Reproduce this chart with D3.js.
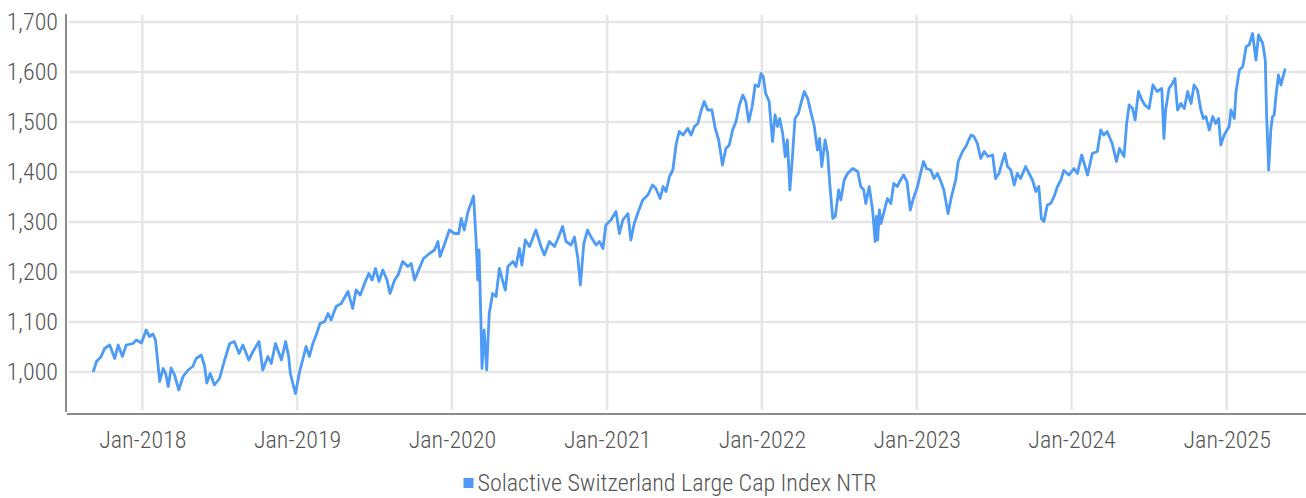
<!DOCTYPE html>
<html lang="en">
<head>
<meta charset="utf-8">
<title>Solactive Switzerland Large Cap Index NTR</title>
<style>
  body { margin: 0; background: #fff; }
  svg { display: block; background: #fff; }
  text { font-family: "Roboto Condensed", "Liberation Sans Narrow", "DejaVu Sans Condensed", Roboto, sans-serif; font-weight: 300; fill: #555; }
  .grid line { stroke: #e6e6e6; stroke-width: 2.5; }
  .axis path { stroke: #8a8a8a; stroke-width: 2; }
  .index-line { fill: none; stroke: #4d9bf5; stroke-width: 2.8; stroke-linejoin: round; }
</style>
</head>
<body>
<div id="chart"></div>
<script src="https://cdn.jsdelivr.net/npm/d3@7"></script>
<script>
// index level
var dates = [
  "2017-09-07","2017-09-15","2017-09-26","2017-10-04","2017-10-16","2017-10-28","2017-11-05","2017-11-15","2017-11-24","2017-12-10","2017-12-18","2017-12-30",
  "2018-01-10","2018-01-18","2018-01-26","2018-02-01","2018-02-11","2018-02-19","2018-02-25","2018-03-03","2018-03-10","2018-03-18","2018-03-28",
  "2018-04-07","2018-04-19","2018-04-30","2018-05-08","2018-05-20","2018-05-28","2018-06-02","2018-06-10","2018-06-20","2018-07-02","2018-07-14",
  "2018-07-26","2018-08-06","2018-08-17","2018-08-26","2018-09-09","2018-09-19","2018-10-03","2018-10-12","2018-10-24","2018-11-01","2018-11-11",
  "2018-11-25","2018-12-05","2018-12-12","2018-12-16","2018-12-28",
  "2019-01-07","2019-01-15","2019-01-22","2019-01-30","2019-02-07","2019-02-15","2019-02-24","2019-03-07","2019-03-15","2019-03-22","2019-04-03",
  "2019-04-15","2019-05-01","2019-05-12","2019-05-20","2019-05-30","2019-06-09","2019-06-19","2019-06-27","2019-07-05","2019-07-13","2019-07-22",
  "2019-08-01","2019-08-08","2019-08-19","2019-08-27","2019-09-07","2019-09-19","2019-09-27","2019-10-05","2019-10-16","2019-10-26","2019-11-09",
  "2019-11-21","2019-11-29","2019-12-04","2019-12-14","2019-12-26",
  "2020-01-07","2020-01-17","2020-01-23","2020-01-30","2020-02-08","2020-02-15","2020-02-21","2020-02-27","2020-03-02","2020-03-05","2020-03-09",
  "2020-03-12","2020-03-17","2020-03-23","2020-03-29","2020-04-06","2020-04-14","2020-04-22","2020-04-30","2020-05-06","2020-05-12","2020-05-24",
  "2020-05-31","2020-06-08","2020-06-14","2020-06-22","2020-07-02","2020-07-17","2020-07-29","2020-08-06","2020-08-18","2020-08-30","2020-09-07",
  "2020-09-18","2020-09-26","2020-10-08","2020-10-16","2020-10-24","2020-10-30","2020-11-07","2020-11-16","2020-11-24","2020-12-06","2020-12-14",
  "2020-12-22","2020-12-29",
  "2021-01-10","2021-01-22","2021-01-30","2021-02-07","2021-02-19","2021-02-26","2021-03-06","2021-03-14","2021-03-26","2021-04-07","2021-04-18",
  "2021-04-26","2021-05-06","2021-05-13","2021-05-20","2021-05-28","2021-06-05","2021-06-13","2021-06-20","2021-06-29","2021-07-10","2021-07-18",
  "2021-07-26","2021-08-03","2021-08-11","2021-08-18","2021-08-26","2021-09-05","2021-09-13","2021-09-21","2021-09-30","2021-10-08","2021-10-16",
  "2021-10-24","2021-11-01","2021-11-09","2021-11-17","2021-11-24","2021-12-01","2021-12-09","2021-12-16","2021-12-24","2021-12-30",
  "2022-01-04","2022-01-10","2022-01-18","2022-01-26","2022-02-01","2022-02-07","2022-02-12","2022-02-19","2022-02-25","2022-03-02","2022-03-08",
  "2022-03-14","2022-03-20","2022-03-28","2022-04-03","2022-04-11","2022-04-19","2022-04-26","2022-05-04","2022-05-12","2022-05-17","2022-05-22",
  "2022-05-30","2022-06-05","2022-06-10","2022-06-17","2022-06-23","2022-07-01","2022-07-06","2022-07-14","2022-07-22","2022-08-03","2022-08-15",
  "2022-08-22","2022-08-29","2022-09-03","2022-09-11","2022-09-19","2022-09-25","2022-09-28","2022-10-01","2022-10-05","2022-10-09","2022-10-24",
  "2022-11-01","2022-11-08","2022-11-16","2022-11-24","2022-12-01","2022-12-09","2022-12-17","2022-12-23",
  "2023-01-03","2023-01-10","2023-01-17","2023-01-24","2023-02-03","2023-02-11","2023-02-19","2023-02-27","2023-03-06","2023-03-16","2023-03-24",
  "2023-04-03","2023-04-09","2023-04-19","2023-04-27","2023-05-09","2023-05-16","2023-05-24","2023-06-01","2023-06-09","2023-06-18","2023-06-29",
  "2023-07-06","2023-07-14","2023-07-22","2023-07-28","2023-08-03","2023-08-11","2023-08-19","2023-08-26","2023-09-03","2023-09-15","2023-09-23",
  "2023-10-01","2023-10-09","2023-10-16","2023-10-22","2023-10-28","2023-11-05","2023-11-13","2023-11-21","2023-11-29","2023-12-07","2023-12-14",
  "2023-12-26",
  "2024-01-07","2024-01-15","2024-01-25","2024-01-31","2024-02-08","2024-02-19","2024-03-02","2024-03-10","2024-03-17","2024-03-25","2024-04-06",
  "2024-04-16","2024-04-23","2024-05-04","2024-05-10","2024-05-16","2024-05-24","2024-05-30","2024-06-07","2024-06-15","2024-06-22","2024-07-02",
  "2024-07-11","2024-07-21","2024-08-01","2024-08-06","2024-08-10","2024-08-18","2024-08-26","2024-09-01","2024-09-07","2024-09-15","2024-09-23",
  "2024-10-01","2024-10-09","2024-10-16","2024-10-24","2024-11-01","2024-11-07","2024-11-13","2024-11-21","2024-11-29","2024-12-06","2024-12-13",
  "2024-12-18","2024-12-26",
  "2025-01-07","2025-01-11","2025-01-19","2025-01-23","2025-01-31","2025-02-08","2025-02-16","2025-02-23","2025-03-03","2025-03-11","2025-03-17",
  "2025-03-27","2025-04-02","2025-04-05","2025-04-10","2025-04-15","2025-04-19","2025-04-23","2025-04-27","2025-05-03","2025-05-09","2025-05-14",
  "2025-05-19"
];
var values = [
  1000,1021,1031,1047,1054,1027,1054,1031,1054,1057,1064,1058,
  1084,1071,1076,1064,981,1007,997,971,1008,994,964,
  991,1004,1011,1027,1034,1011,978,997,974,987,1024,
  1057,1061,1037,1054,1024,1041,1061,1004,1031,1017,1057,
  1024,1061,1031,997,957,
  1001,1027,1051,1031,1057,1074,1097,1101,1117,1104,1131,
  1137,1161,1127,1164,1154,1177,1197,1184,1207,1181,1204,
  1184,1157,1184,1194,1221,1211,1217,1184,1207,1227,1237,
  1244,1261,1231,1254,1284,
  1277,1277,1307,1284,1321,1337,1352,1264,1184,1244,1117,
  1007,1084,1004,1117,1157,1151,1207,1181,1164,1211,1221,
  1211,1247,1214,1264,1251,1284,1251,1234,1261,1251,1267,
  1291,1261,1254,1270,1227,1174,1257,1284,1270,1254,1261,
  1247,1294,
  1304,1321,1277,1304,1317,1264,1297,1317,1344,1354,1374,
  1367,1347,1371,1361,1391,1404,1457,1481,1474,1487,1474,
  1491,1497,1524,1541,1524,1524,1487,1464,1414,1447,1454,
  1484,1501,1534,1554,1541,1501,1531,1574,1571,1597,
  1591,1557,1541,1461,1514,1491,1507,1477,1431,1464,1364,
  1431,1507,1517,1537,1561,1547,1521,1494,1444,1467,1411,
  1464,1437,1377,1307,1311,1364,1344,1384,1397,1407,1401,
  1371,1364,1337,1371,1324,1261,1311,1264,1324,1297,1347,
  1337,1377,1371,1384,1394,1381,1324,1344,
  1371,1397,1421,1407,1404,1387,1397,1381,1364,1317,1351,
  1384,1421,1441,1451,1474,1471,1457,1427,1441,1431,1434,
  1387,1397,1421,1437,1411,1404,1374,1397,1387,1411,1397,
  1384,1361,1371,1307,1301,1334,1337,1351,1371,1384,1403,
  1394,
  1407,1397,1434,1417,1394,1437,1441,1484,1474,1481,1457,
  1421,1447,1431,1497,1534,1527,1504,1561,1544,1534,1527,
  1574,1561,1567,1467,1524,1567,1577,1587,1524,1537,1527,
  1561,1537,1574,1564,1524,1507,1511,1484,1511,1497,1507,
  1454,1474,
  1491,1524,1507,1561,1604,1611,1651,1654,1677,1624,1674,
  1657,1624,1517,1404,1484,1511,1514,1551,1594,1574,1591,
  1607
];
var yTicks = [1000, 1100, 1200, 1300, 1400, 1500, 1600, 1700];
var xTicks = ["2018-01-01", "2019-01-01", "2020-01-01", "2021-01-01", "2022-01-01", "2023-01-01", "2024-01-01", "2025-01-01"];
var seriesName = "Solactive Switzerland Large Cap Index NTR";

var width = 1306, height = 498;
var plotLeft = 66, plotRight = 1306, plotTop = 14, plotBottom = 414;

var parse = d3.timeParse("%Y-%m-%d");
var data = dates.map(function(d, i) { return {date: parse(d), value: values[i]}; });

var svg = d3.select("#chart").append("svg")
    .attr("width", width)
    .attr("height", height);

var x = d3.scaleTime()
    .domain([parse("2017-07-05"), parse("2025-07-07")])
    .range([plotLeft, plotRight]);

var y = d3.scaleLinear()
    .domain([916, 1716])
    .range([plotBottom, plotTop]);

// gridlines
var grid = svg.append("g").attr("class", "grid");
grid.selectAll(".h")
    .data(yTicks)
    .enter().append("line")
    .attr("x1", plotLeft + 3).attr("x2", plotRight)
    .attr("y1", function(d) { return y(d); })
    .attr("y2", function(d) { return y(d); });
grid.selectAll(".v")
    .data(xTicks)
    .enter().append("line")
    .attr("x1", function(d) { return x(parse(d)); })
    .attr("x2", function(d) { return x(parse(d)); })
    .attr("y1", plotTop + 1).attr("y2", plotBottom - 4);

// axes
var yAxis = svg.append("g")
    .attr("class", "axis")
    .attr("transform", "translate(" + plotLeft + ",0)")
    .call(d3.axisLeft(y).tickValues(yTicks).tickFormat(d3.format(",")).tickSize(0).tickSizeOuter(0).tickPadding(8));
yAxis.select(".domain").attr("d", "M0," + plotTop + "V" + (plotBottom - 2));
yAxis.selectAll("text").style("font-size", "24px").style("fill", "#555");

var xAxis = svg.append("g")
    .attr("class", "axis")
    .attr("transform", "translate(0," + plotBottom + ")")
    .call(d3.axisBottom(x).tickValues(xTicks.map(parse)).tickFormat(d3.timeFormat("%b-%Y")).tickSize(0).tickSizeOuter(0).tickPadding(17));
xAxis.select(".domain").attr("d", "M" + (plotLeft + 1) + ",0H" + plotRight);
xAxis.selectAll("text").style("font-size", "24px").style("fill", "#555");

// series
var line = d3.line()
    .x(function(d) { return x(d.date); })
    .y(function(d) { return y(d.value); });

svg.append("path")
    .datum(data)
    .attr("class", "index-line")
    .attr("d", line);

// legend
var legend = svg.append("g").attr("transform", "translate(" + (width / 2 + 24) + ",483)");
var legendText = legend.append("text")
    .attr("x", 0)
    .attr("dy", "0.35em")
    .attr("text-anchor", "middle")
    .style("font-size", "24px")
    .style("fill", "#555")
    .text(seriesName);
var bb = legendText.node().getBBox();
legend.append("rect")
    .attr("x", bb.x - 14)
    .attr("y", -5)
    .attr("width", 10)
    .attr("height", 10)
    .attr("fill", "#4d9bf5");
</script>
</body>
</html>
